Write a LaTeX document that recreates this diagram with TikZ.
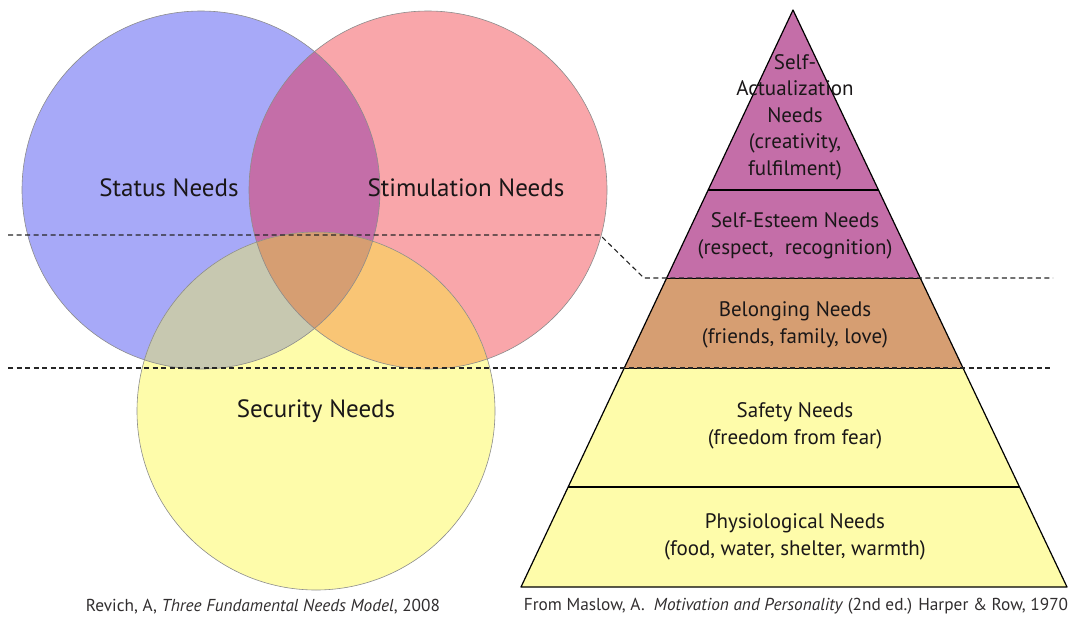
\documentclass[tikz,border=0pt]{standalone}
\usepackage{fontspec}
\setmainfont{PT Sans}
\usetikzlibrary{calc}
\definecolor{cblue}{HTML}{A7A9F8}
\definecolor{cpink}{HTML}{F9A6AA}
\definecolor{cyel}{HTML}{FEFCAA}
\definecolor{cpurp}{HTML}{C46EA8}
\definecolor{cgray}{HTML}{C7C8B0}
\definecolor{corange}{HTML}{F9C575}
\definecolor{ctan}{HTML}{D69E72}
\definecolor{ctext}{HTML}{1A1718}
\begin{document}
\begin{tikzpicture}[x=1pt,y=-1pt,
  circlabel/.style={font=\fontsize{25}{29}\selectfont, text=ctext},
  pyrlabel/.style={font=\fontsize{21}{26.5}\selectfont, align=center, text=ctext},
  caption/.style={font=\fontsize{17.3}{20}\selectfont, text=ctext!90},
  venn/.style={draw=black!45, line width=0.6pt},
  pyr/.style={draw=black, line width=1.2pt, line join=round},
  guide/.style={draw=black!85, dashed, dash pattern=on 5pt off 3.5pt, line width=1.1pt}]
\useasboundingbox (0,0) rectangle (1079,619);
% circle centres
\coordinate (cb) at (201,190);
\coordinate (cp) at (428,190);
\coordinate (cy) at (316,411);
\def\R{179pt}
\fill[cblue] (cb) circle[radius=\R];
\fill[cpink] (cp) circle[radius=\R];
\fill[cyel] (cy) circle[radius=\R];
\begin{scope}
  \clip (cb) circle[radius=\R];
  \fill[cpurp] (cp) circle[radius=\R];
  \fill[cgray] (cy) circle[radius=\R];
\end{scope}
\begin{scope}
  \clip (cp) circle[radius=\R];
  \fill[corange] (cy) circle[radius=\R];
  \clip (cb) circle[radius=\R];
  \fill[ctan] (cy) circle[radius=\R];
\end{scope}
\draw[venn] (cb) circle[radius=\R];
\draw[venn] (cp) circle[radius=\R];
\draw[venn] (cy) circle[radius=\R];
\node[circlabel] (status) at (169,188) {Status Needs};
\node[circlabel] (stim) at (466,188) {Stimulation Needs};
\node[circlabel] (secur) at (316,411) {Security Needs};
% pyramid
\coordinate (A) at (793,10);
\coordinate (BL) at (521,587);
\coordinate (BR) at (1067,587);
\coordinate (l1) at ($(A)!0.31196!(BL)$);
\coordinate (r1) at ($(A)!0.31196!(BR)$);
\coordinate (l2) at ($(A)!0.46447!(BL)$);
\coordinate (r2) at ($(A)!0.46447!(BR)$);
\coordinate (l3) at ($(A)!0.62045!(BL)$);
\coordinate (r3) at ($(A)!0.62045!(BR)$);
\coordinate (l4) at ($(A)!0.82669!(BL)$);
\coordinate (r4) at ($(A)!0.82669!(BR)$);
\fill[cpurp] (A) -- (l2) -- (r2) -- cycle;
\fill[ctan] (l2) -- (l3) -- (r3) -- (r2) -- cycle;
\fill[cyel] (l3) -- (BL) -- (BR) -- (r3) -- cycle;
\draw[pyr] (A) -- (BL) -- (BR) -- cycle;
\draw[pyr] (l1) -- (r1);
\draw[pyr, line width=0.8pt] (l2) -- (r2);
\draw[pyr, line width=0.8pt] (l3) -- (r3);
\draw[pyr] (l4) -- (r4);
\node[pyrlabel] (selfact) at (795,117) {Self-\\Actualization\\Needs\\(creativity,\\fulfilment)};
\node[pyrlabel] (esteem) at (795,236) {Self-Esteem Needs\\(respect,\ \ recognition)};
\node[pyrlabel] (belong) at (795,325) {Belonging Needs\\(friends, family, love)};
\node[pyrlabel] (safety) at (795,426) {Safety Needs\\(freedom from fear)};
\node[pyrlabel] (physio) at (795,537) {Physiological Needs\\(food, water, shelter, warmth)};
% guide lines
\coordinate (g1a) at (8,235);
\coordinate (g1b) at (600,235);
\coordinate (g1c) at (644,278);
\coordinate (g1d) at (1053,278);
\coordinate (g2a) at (8,368);
\coordinate (g2b) at (1053,368);
\draw[guide] (g1a) -- (g1b) -- (g1c) -- (g1d);
\draw[guide] (g2a) -- (g2b);
% captions
\node[caption] (capl) at (263,607) {Revich, A, \textit{Three Fundamental Needs Model}, 2008};
\node[caption] (capr) at (796,606) {From Maslow, A.\ \ \textit{Motivation and Personality} (2nd ed.) Harper \& Row, 1970};
\end{tikzpicture}
\end{document}
